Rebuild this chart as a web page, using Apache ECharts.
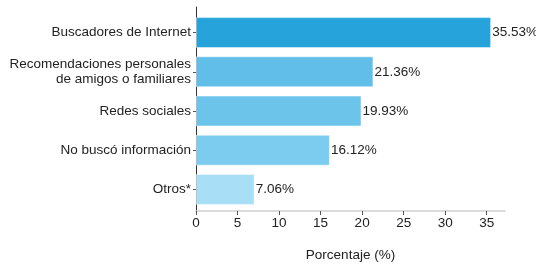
<!DOCTYPE html>
<html>
<head>
<meta charset="utf-8">
<script src="https://cdn.jsdelivr.net/npm/echarts@6/dist/echarts.min.js"></script>
<style>
html, body { margin: 0; padding: 0; background: #fff; }
#chart { width: 536px; height: 267px; }
</style>
</head>
<body>
<div id="chart"></div>
<script>
// categorias (de abajo hacia arriba)
var categorias = ['Otros*', 'No buscó información', 'Redes sociales', 'Recomendaciones personales\nde amigos o familiares', 'Buscadores de Internet'];
var porcentajes = [7.06, 16.12, 19.93, 21.36, 35.53];
var colores = ['#a8dff6', '#7bccee', '#6cc4ea', '#61bee8', '#26a3db'];
var ticksX = [0, 5, 10, 15, 20, 25, 30, 35];
var maxX = 37.2;

var chart = echarts.init(document.getElementById('chart'));
var datos = [];
for (var i = 0; i < porcentajes.length; i++) {
    datos.push({
        value: porcentajes[i],
        itemStyle: { color: colores[i], borderColor: 'rgba(255,255,255,0.5)', borderWidth: 1 }
    });
}
var fuente = 'Liberation Sans, Arial, sans-serif';
var option = {
    animation: false,
    textStyle: { fontFamily: fuente },
    // grid 0: barras (con margen como ggplot), grid 1: lineas de los ejes
    grid: [
        { left: 196, right: 31, top: 13, bottom: 58, containLabel: false },
        { left: 196, right: 31, top: 7, bottom: 53, containLabel: false }
    ],
    xAxis: [{
        gridIndex: 0,
        type: 'value',
        min: 0,
        max: maxX,
        show: false
    }, {
        gridIndex: 1,
        type: 'value',
        min: 0,
        max: maxX,
        interval: 5,
        name: 'Porcentaje (%)',
        nameLocation: 'middle',
        nameGap: 37,
        nameTextStyle: { color: '#222', fontSize: 13.5 },
        axisLine: { show: true, lineStyle: { color: '#d0d0d0', width: 1.5 } },
        axisTick: { show: true, length: 4, lineStyle: { color: '#555' } },
        axisLabel: {
            color: '#222', fontSize: 13.5, margin: 5,
            showMaxLabel: false,
            formatter: function (v) { return ticksX.indexOf(v) >= 0 ? v : ''; }
        },
        splitLine: { show: false }
    }],
    yAxis: [{
        gridIndex: 0,
        type: 'category',
        data: categorias,
        axisLine: { show: false },
        axisTick: { show: true, length: 3, alignWithLabel: true, lineStyle: { color: '#555' } },
        axisLabel: { color: '#222', fontSize: 13.5, margin: 5, lineHeight: 15 }
    }, {
        gridIndex: 1,
        type: 'value',
        min: 0,
        max: 1,
        axisLine: { show: true, lineStyle: { color: '#333', width: 1 } },
        axisTick: { show: false },
        axisLabel: { show: false },
        splitLine: { show: false }
    }],
    series: [{
        type: 'bar',
        xAxisIndex: 0,
        yAxisIndex: 0,
        data: datos,
        barCategoryGap: '21%',
        label: {
            show: true,
            position: 'right',
            distance: 1,
            color: '#222',
            fontSize: 13.5,
            formatter: function (p) { return p.value.toFixed(2) + '%'; }
        }
    }]
};
chart.setOption(option);
</script>
</body>
</html>
